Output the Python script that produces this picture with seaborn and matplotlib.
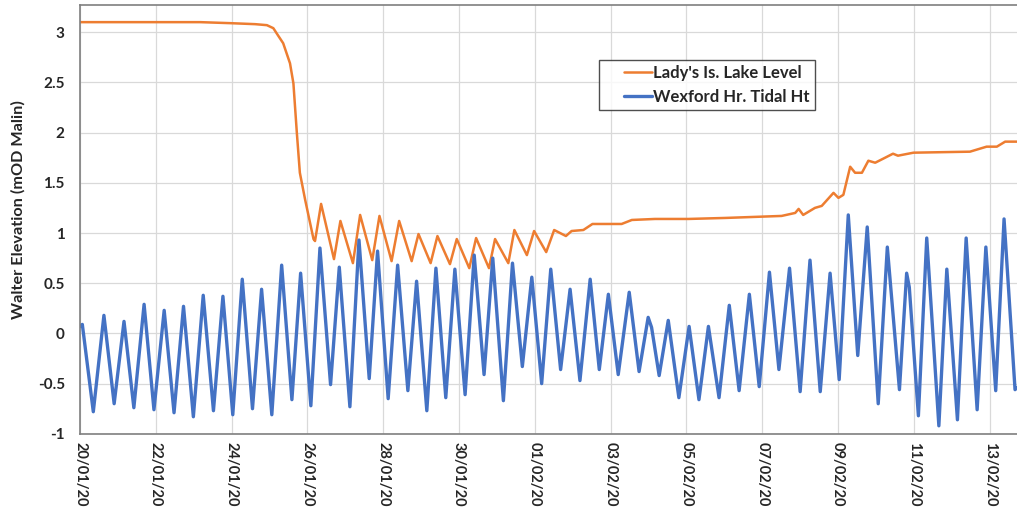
#!/usr/bin/env python
# -*- coding: utf-8 -*-

import numpy as np
import pandas as pd

import matplotlib
matplotlib.use('Agg')
import matplotlib.pyplot as plt
import matplotlib.dates as mdates
from matplotlib.lines import Line2D
from matplotlib.legend_handler import HandlerLine2D
import seaborn as sns

## ============================================================= ##

START = pd.Timestamp('2020-01-20')

# Lady's Island lake level: days since 20/01/20 and level (mOD Malin)
lake_days = [0.00, 3.17, 3.96, 4.62, 4.93, 5.10, 5.22, 5.36, 5.54, 5.63,
             5.72, 5.80, 5.94, 6.16, 6.20, 6.36, 6.70, 6.87, 7.20, 7.39,
             7.71, 7.90, 8.22, 8.42, 8.75, 8.93, 9.25, 9.43, 9.76, 9.94,
             10.27, 10.45, 10.79, 10.95, 11.30, 11.46, 11.79, 11.98, 12.30, 12.51,
             12.82, 12.97, 13.28, 13.52, 14.29, 14.56, 15.17, 16.05, 17.02, 18.51,
             18.87, 18.96, 19.08, 19.39, 19.57, 19.88, 20.01, 20.14, 20.32, 20.45,
             20.63, 20.80, 20.98, 21.19, 21.45, 21.58, 21.99, 23.48, 23.92, 24.19,
             24.41, 24.72]
lake_level = [3.10, 3.10, 3.09, 3.08, 3.07, 3.04, 2.97, 2.89, 2.69, 2.49,
              2.00, 1.60, 1.33, 0.94, 0.92, 1.29, 0.74, 1.12, 0.70, 1.18,
              0.73, 1.17, 0.72, 1.12, 0.72, 0.99, 0.70, 0.97, 0.69, 0.94,
              0.65, 0.95, 0.65, 0.94, 0.70, 1.03, 0.78, 1.02, 0.81, 1.03,
              0.97, 1.02, 1.03, 1.09, 1.09, 1.13, 1.14, 1.14, 1.15, 1.17,
              1.20, 1.24, 1.18, 1.25, 1.27, 1.40, 1.35, 1.38, 1.66, 1.60,
              1.60, 1.72, 1.70, 1.74, 1.79, 1.77, 1.80, 1.81, 1.86, 1.86,
              1.91, 1.91]

# Wexford Harbour tide: highs and lows
tide_days = [0.00, 0.06, 0.35, 0.63, 0.90, 1.16, 1.42, 1.69, 1.95, 2.22,
             2.48, 2.73, 2.99, 3.25, 3.52, 3.77, 4.03, 4.28, 4.55, 4.79,
             5.06, 5.32, 5.59, 5.82, 6.09, 6.33, 6.61, 6.84, 7.12, 7.36,
             7.63, 7.85, 8.13, 8.38, 8.65, 8.88, 9.15, 9.39, 9.65, 9.89,
             10.16, 10.40, 10.66, 10.89, 11.17, 11.41, 11.67, 11.92, 12.18, 12.42,
             12.68, 12.93, 13.19, 13.46, 13.70, 13.94, 14.20, 14.49, 14.75, 14.99,
             15.08, 15.28, 15.52, 15.80, 16.07, 16.33, 16.58, 16.86, 17.13, 17.39,
             17.66, 17.92, 18.19, 18.44, 18.72, 19.00, 19.26, 19.53, 19.79, 20.03,
             20.27, 20.52, 20.77, 21.06, 21.30, 21.62, 21.81, 21.88, 22.12, 22.34,
             22.66, 22.87, 23.15, 23.38, 23.67, 23.90, 24.16, 24.38, 24.67, 24.72]
tide_height = [0.07, 0.09, -0.78, 0.18, -0.70, 0.12, -0.74, 0.29, -0.76, 0.23,
               -0.79, 0.27, -0.83, 0.38, -0.77, 0.37, -0.81, 0.54, -0.75, 0.44,
               -0.81, 0.68, -0.66, 0.60, -0.72, 0.85, -0.51, 0.66, -0.73, 0.93,
               -0.45, 0.82, -0.65, 0.68, -0.57, 0.52, -0.77, 0.65, -0.64, 0.64,
               -0.61, 0.78, -0.41, 0.75, -0.67, 0.70, -0.33, 0.56, -0.50, 0.64,
               -0.36, 0.44, -0.47, 0.54, -0.36, 0.39, -0.41, 0.41, -0.38, 0.16,
               0.06, -0.42, 0.13, -0.64, 0.07, -0.66, 0.07, -0.64, 0.28, -0.57,
               0.39, -0.53, 0.61, -0.36, 0.65, -0.58, 0.73, -0.58, 0.60, -0.46,
               1.18, -0.22, 1.06, -0.70, 0.86, -0.56, 0.60, 0.46, -0.82, 0.95,
               -0.92, 0.64, -0.86, 0.95, -0.76, 0.86, -0.57, 1.14, -0.56, -0.54]

xtick_dates = pd.date_range('2020-01-20', '2020-02-13', freq='2D')
yticks = [-1, -0.5, 0, 0.5, 1, 1.5, 2, 2.5, 3]
ytick_labels = ['-1', '-0.5', '0', '0.5', '1', '1.5', '2', '2.5', '3']

## ============================================================= ##

df_lake = pd.DataFrame({'time': START + pd.to_timedelta(lake_days, unit='D'),
                        'level': lake_level})
df_tide = pd.DataFrame({'time': START + pd.to_timedelta(tide_days, unit='D'),
                        'level': tide_height})

sns.set_style('white')
plt.rcParams['font.family'] = ['Lato', 'DejaVu Sans']
plt.rcParams['font.weight'] = 'bold'

fig = plt.figure(figsize=(10.17, 5.08), dpi=100)
ax = fig.add_axes([0.0787, 0.146, 0.9313, 0.844])

sns.lineplot(data=df_lake, x='time', y='level', ax=ax, color='#ED7D31', lw=1.8,
             label="Lady's Is. Lake Level", solid_joinstyle='round')
sns.lineplot(data=df_tide, x='time', y='level', ax=ax, color='#4472C4', lw=2.4,
             label='Wexford Hr. Tidal Ht', solid_joinstyle='round')

ax.set_xlim(START, START + pd.Timedelta(days=24.99))
ax.set_ylim(-1, 3.27)
ax.set_yticks(yticks)
ax.set_yticklabels(ytick_labels)
ax.set_xticks(xtick_dates)
ax.xaxis.set_major_formatter(mdates.DateFormatter('%d/%m/%y'))
plt.setp(ax.get_xticklabels(), rotation=-90, ha='center', va='top')
ax.tick_params(axis='x', labelsize=10.5, length=0, pad=6)
ax.tick_params(axis='y', labelsize=11, length=0, pad=11)
for lab in ax.get_xticklabels() + ax.get_yticklabels():
	lab.set_fontweight('bold')

ax.grid(True, color='#d9d9d9', lw=0.9)
for s in ax.spines.values():
	s.set_color('#7f7f7f')
	s.set_linewidth(1.2)

ax.set_xlabel('')
ax.set_ylabel('Walter Elevation (mOD Malin)', fontsize=11.7, fontweight='bold')
ax.yaxis.set_label_coords(-0.058, 0.522)

leg = ax.legend(loc='upper left', bbox_to_anchor=(0.548, 0.872), frameon=True, fancybox=False,
                fontsize=12, handlelength=2.9, handletextpad=0.05, borderpad=0.3,
                labelspacing=0.5, borderaxespad=0.,
                handler_map={Line2D: HandlerLine2D(xpad=1.2)})
leg.get_frame().set_edgecolor('#222222')
leg.get_frame().set_linewidth(1.0)
for t in leg.get_texts():
	t.set_fontweight('bold')

fig.savefig('out.png', dpi=100)
